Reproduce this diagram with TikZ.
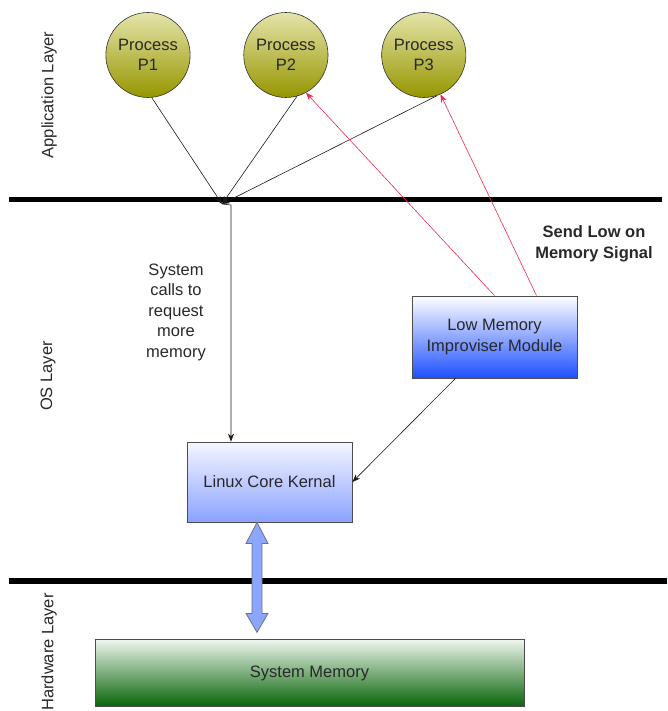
\documentclass[tikz,border=0pt]{standalone}
\usepackage{fontspec}
\setmainfont{Liberation Sans}
\usepackage{tikz}
\usetikzlibrary{positioning, calc}
\usetikzlibrary{arrows.meta}
\usetikzlibrary{shapes.geometric}
\definecolor{textgray}{RGB}{40,40,40}
\definecolor{olivetop}{RGB}{228,228,170}
\definecolor{olivebot}{RGB}{150,150,0}
\definecolor{kerntop}{RGB}{245,246,255}
\definecolor{kernbot}{RGB}{138,162,255}
\definecolor{lmimbot}{RGB}{30,80,255}
\definecolor{memtop}{RGB}{238,245,238}
\definecolor{membot}{RGB}{8,100,8}
\definecolor{signalred}{RGB}{240,40,80}
\definecolor{pipeblue}{RGB}{140,165,255}
\tikzstyle{basetext}=[font=\fontsize{16.5}{20.5}\selectfont, text=textgray, align=center]
\tikzstyle{procnode}=[basetext, ellipse, draw=black!80, semithick, minimum width=82pt, minimum height=85pt, inner sep=0pt, top color=olivetop, bottom color=olivebot]
\tikzstyle{boxnode}=[basetext, rectangle, draw=black!70, thick, top color=white]
\tikzstyle{kernnode}=[boxnode, top color=kerntop, bottom color=kernbot, minimum width=165pt, minimum height=80pt]
\tikzstyle{lmimnode}=[boxnode, bottom color=lmimbot, minimum width=165pt, minimum height=82pt]
\tikzstyle{memnode}=[boxnode, top color=memtop, bottom color=membot, minimum width=429pt, minimum height=67pt]
\tikzstyle{layertext}=[basetext, rotate=90]
\tikzstyle{layerline}=[line width=5.5pt, black]
\tikzstyle{edgepath} = [-{Stealth[length=8pt,width=6pt]}, black!90, semithick]
\tikzstyle{signalpath} = [-{Stealth[length=8pt,width=6pt]}, signalred, semithick]
\tikzstyle{pipearrow}=[draw=black!55, thick, fill=pipeblue]

\begin{document}
\begin{tikzpicture}[x=1pt,y=-1pt]
    \useasboundingbox (0,0) rectangle (667,711);

    % layer borders
    \draw[layerline] (9,199.5) -- (662,199.5);
    \draw[layerline] (9,581) -- (667,581);

    \node[layertext] (applayer) at (49,95) {Application Layer};
    \node[layertext] (oslayer) at (48,376) {OS Layer};
    \node[layertext] (hwlayer) at (49,652) {Hardware Layer};

    % processes
    \node[procnode] (p1) at (148,55) {Process\\P1};
    \node[procnode, right=53pt of p1] (p2) {Process\\P2};
    \node[procnode, right=53pt of p2] (p3) {Process\\P3};

    % os and hardware
    \node[lmimnode] (lmim) at (494.5,337) {Low Memory\\Improviser Module};
    \node[kernnode] (kern) at (269.5,482) {Linux Core Kernal};
    \node[memnode] (mem) at (309.5,673) {System Memory};

    \node[basetext] (calls) at (176,312) {System\\calls to\\request\\more\\memory};
    \node[basetext, font=\fontsize{16.5}{20.5}\selectfont\bfseries] (signal) at (594,244) {Send Low on\\Memory Signal};

    \coordinate (join) at (222,204);
    \coordinate (bend) at (231,205);

    \path[edgepath]
        (p1.-85) edge (join)
        (p2.-75) edge (join)
        (p3.-72) edge (join);
    \draw[edgepath] (join) -- (bend) -- (bend |- kern.north);
    \path[signalpath]
        (lmim.north) edge (p2.-62)
        ([xshift=42pt]lmim.north) edge (p3.-67);
    \draw[edgepath] ([xshift=-39pt]lmim.south) -- (kern.east);

    % kernel <-> memory
    \draw[pipearrow] ([xshift=-12.5pt]kern.south) -- ++(11,21) -- ++(-6,0)
        -- ++(0,70) -- ++(6,0) -- ++(-11,19) -- ++(-11,-19) -- ++(6,0)
        -- ++(0,-70) -- ++(-6,0) -- cycle;
\end{tikzpicture}
\end{document}
